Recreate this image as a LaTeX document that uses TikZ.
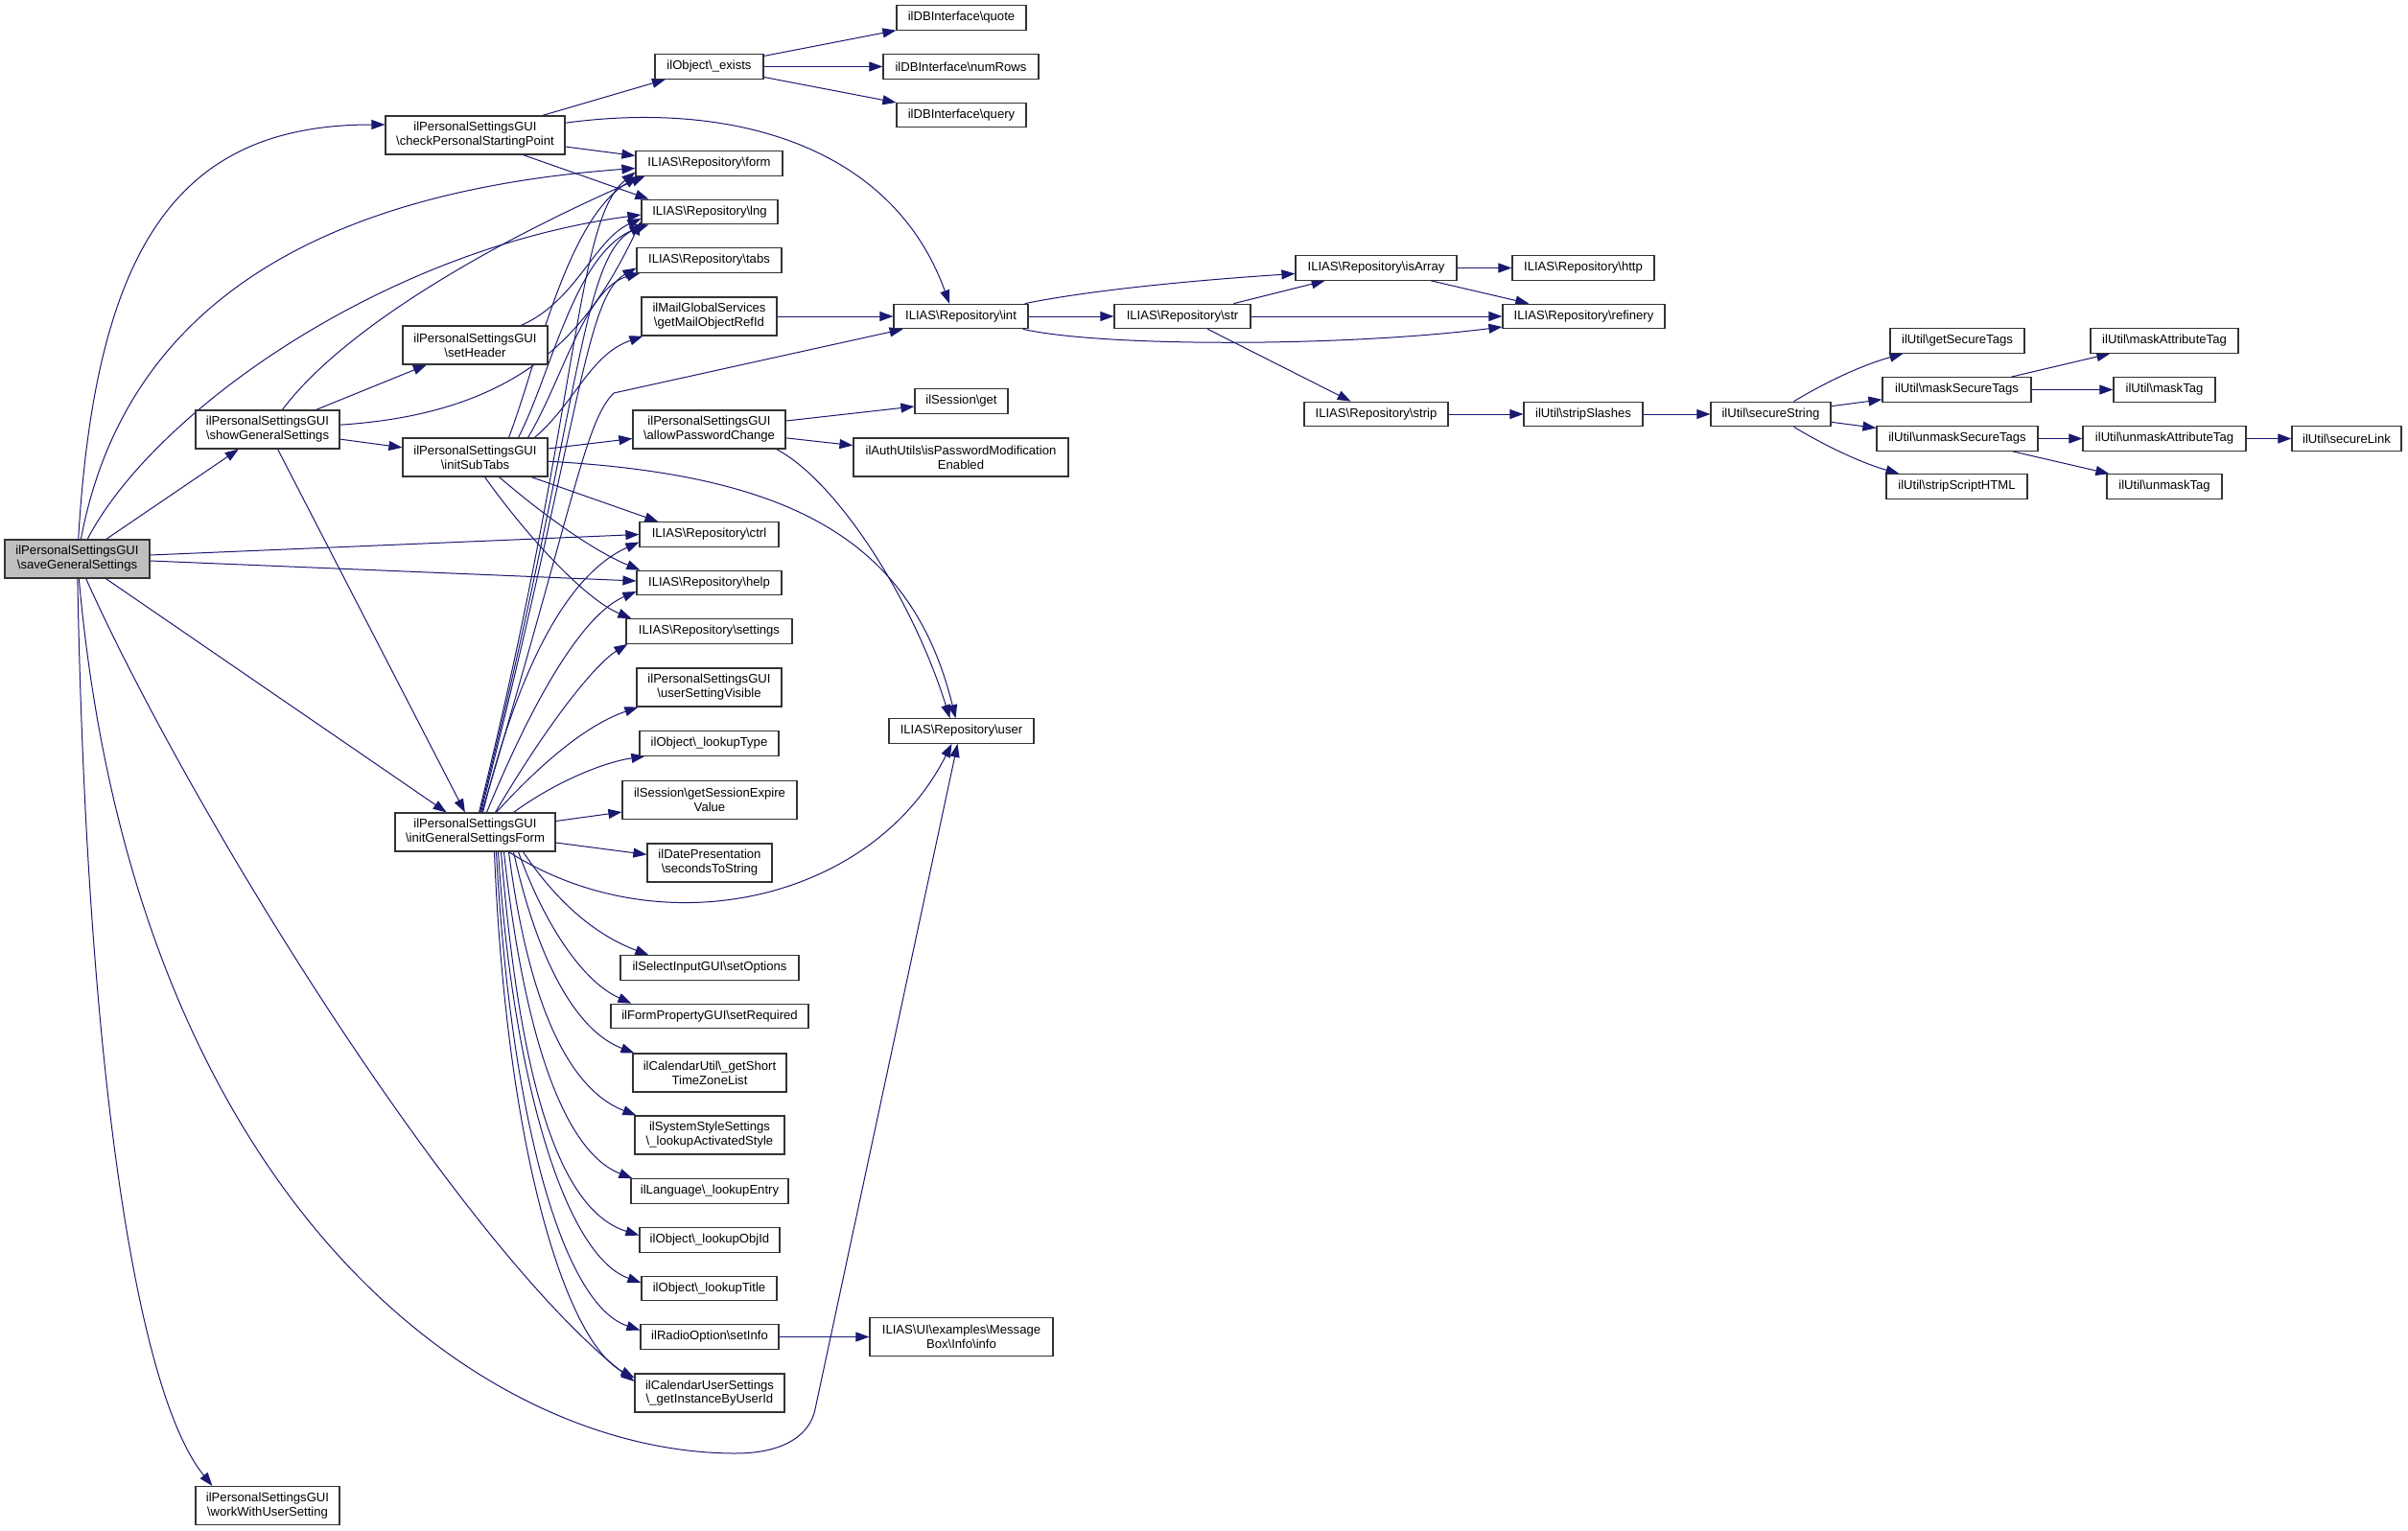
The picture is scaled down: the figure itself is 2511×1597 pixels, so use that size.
\documentclass[tikz,border=0pt]{standalone}
\usepackage{fontspec}
\setmainfont{Liberation Sans}
\usetikzlibrary{arrows.meta}
\newcommand{\bsl}{\textbackslash}
\definecolor{edgeblue}{HTML}{191970}
\pgfdeclarelayer{bg}
\pgfsetlayers{bg,main}
\begin{document}
\begin{tikzpicture}[x=1pt,y=-1pt,
  nb/.style={draw=black!80, fill=white, line width=1.2pt, inner sep=0pt, minimum height=25.5pt, align=center, font=\fontsize{13.1}{14.8}\selectfont},
  nbb/.style={nb, minimum height=40pt},
  root/.style={nbb, fill=black!25},
  e/.style={draw=edgeblue, line width=1pt, -{Triangle[length=14pt,width=10pt]}}]
\useasboundingbox (0,0) rectangle (2511,1597);
% nodes
\node[root, minimum width=151pt] (S) at (80.5,583) {ilPersonalSettingsGUI\\\bsl{}saveGeneralSettings};
\node[nbb, minimum width=187pt] (C) at (495.5,141) {ilPersonalSettingsGUI\\\bsl{}checkPersonalStartingPoint};
\node[nbb, minimum width=151pt] (H) at (495.5,360) {ilPersonalSettingsGUI\\\bsl{}setHeader};
\node[nbb, minimum width=150pt] (G) at (279,448) {ilPersonalSettingsGUI\\\bsl{}showGeneralSettings};
\node[nbb, minimum width=151pt] (T) at (495.5,477) {ilPersonalSettingsGUI\\\bsl{}initSubTabs};
\node[nbb, minimum width=167pt] (F) at (495.5,868) {ilPersonalSettingsGUI\\\bsl{}initGeneralSettingsForm};
\node[nbb, minimum width=150pt] (W) at (279,1570.5) {ilPersonalSettingsGUI\\\bsl{}workWithUserSetting};
\node[nb, minimum width=113pt] (exists) at (739.5,69.5) {ilObject\bsl\_exists};
\node[nb, minimum width=135pt] (quote) at (1002.5,18.5) {ilDBInterface\bsl{}quote};
\node[nb, minimum width=162pt] (numRows) at (1002,69.5) {ilDBInterface\bsl{}numRows};
\node[nb, minimum width=135pt] (query) at (1002.5,120) {ilDBInterface\bsl{}query};
\node[nb, minimum width=153pt] (form) at (739.5,170.5) {ILIAS\bsl{}Repository\bsl{}form};
\node[nb, minimum width=142pt] (lng) at (740,221) {ILIAS\bsl{}Repository\bsl{}lng};
\node[nb, minimum width=151pt] (tabs) at (739.5,271.5) {ILIAS\bsl{}Repository\bsl{}tabs};
\node[nbb, minimum width=141pt] (getMail) at (739.5,330) {ilMailGlobalServices\\\bsl{}getMailObjectRefId};
\node[nb, minimum width=140pt] (int) at (1002,330) {ILIAS\bsl{}Repository\bsl{}int};
\node[nbb, minimum width=159pt] (A) at (739.5,448) {ilPersonalSettingsGUI\\\bsl{}allowPasswordChange};
\node[nb, minimum width=97pt] (sget) at (1002.5,418.5) {ilSession\bsl{}get};
\node[nbb, minimum width=224pt] (pwmod) at (1002,477) {ilAuthUtils\bsl{}isPasswordModification\\Enabled};
\node[nb, minimum width=142pt] (str) at (1233,330) {ILIAS\bsl{}Repository\bsl{}str};
\node[nb, minimum width=168pt] (isArray) at (1435,279.5) {ILIAS\bsl{}Repository\bsl{}isArray};
\node[nb, minimum width=148pt] (http) at (1651,279.5) {ILIAS\bsl{}Repository\bsl{}http};
\node[nb, minimum width=169pt] (refinery) at (1651.5,330) {ILIAS\bsl{}Repository\bsl{}refinery};
\node[nb, minimum width=150pt] (strip) at (1435,432) {ILIAS\bsl{}Repository\bsl{}strip};
\node[nb, minimum width=124pt] (stripSlashes) at (1651,432) {ilUtil\bsl{}stripSlashes};
\node[nb, minimum width=125pt] (secureString) at (1846.5,432) {ilUtil\bsl{}secureString};
\node[nb, minimum width=140pt] (getSecureTags) at (2041,355.5) {ilUtil\bsl{}getSecureTags};
\node[nb, minimum width=155pt] (maskSecureTags) at (2040.5,406.5) {ilUtil\bsl{}maskSecureTags};
\node[nb, minimum width=168pt] (unmaskSecureTags) at (2041,457.5) {ilUtil\bsl{}unmaskSecureTags};
\node[nb, minimum width=147pt] (stripScriptHTML) at (2040.5,507.5) {ilUtil\bsl{}stripScriptHTML};
\node[nb, minimum width=154pt] (maskAttributeTag) at (2257,355.5) {ilUtil\bsl{}maskAttributeTag};
\node[nb, minimum width=106pt] (maskTag) at (2257,406.5) {ilUtil\bsl{}maskTag};
\node[nb, minimum width=170pt] (unmaskAttributeTag) at (2257,457.5) {ilUtil\bsl{}unmaskAttributeTag};
\node[nb, minimum width=114pt] (secureLink) at (2447,457.5) {ilUtil\bsl{}secureLink};
\node[nb, minimum width=120pt] (unmaskTag) at (2257,507.5) {ilUtil\bsl{}unmaskTag};
\node[nb, minimum width=145pt] (ctrl) at (739.5,557.5) {ILIAS\bsl{}Repository\bsl{}ctrl};
\node[nb, minimum width=151pt] (help) at (739.5,608) {ILIAS\bsl{}Repository\bsl{}help};
\node[nb, minimum width=173pt] (settings) at (739.5,658.5) {ILIAS\bsl{}Repository\bsl{}settings};
\node[nbb, minimum width=151pt] (usv) at (739.5,717) {ilPersonalSettingsGUI\\\bsl{}userSettingVisible};
\node[nb, minimum width=145pt] (lookupType) at (739.5,775.5) {ilObject\bsl\_lookupType};
\node[nbb, minimum width=182pt] (gsev) at (740,834.5) {ilSession\bsl{}getSessionExpire\\Value};
\node[nbb, minimum width=130pt] (s2s) at (740,900) {ilDatePresentation\\\bsl{}secondsToString};
\node[nb, minimum width=151pt] (user) at (1002.5,762.5) {ILIAS\bsl{}Repository\bsl{}user};
\node[nb, minimum width=186pt] (setOptions) at (740,1009.5) {ilSelectInputGUI\bsl{}setOptions};
\node[nb, minimum width=206pt] (setRequired) at (740,1060) {ilFormPropertyGUI\bsl{}setRequired};
\node[nbb, minimum width=160pt] (gstzl) at (740,1119) {ilCalendarUtil\bsl\_getShort\\TimeZoneList};
\node[nbb, minimum width=156pt] (las) at (740,1184) {ilSystemStyleSettings\\\bsl\_lookupActivatedStyle};
\node[nb, minimum width=164pt] (lookupEntry) at (740,1242.5) {ilLanguage\bsl\_lookupEntry};
\node[nb, minimum width=146pt] (lookupObjId) at (740,1293.5) {ilObject\bsl\_lookupObjId};
\node[nb, minimum width=141pt] (lookupTitle) at (739.5,1344) {ilObject\bsl\_lookupTitle};
\node[nb, minimum width=144pt] (setInfo) at (740,1394.5) {ilRadioOption\bsl{}setInfo};
\node[nbb, minimum width=156pt] (gibu) at (740,1453) {ilCalendarUserSettings\\\bsl\_getInstanceByUserId};
\node[nbb, minimum width=191pt] (msgInfo) at (1002.5,1394.5) {ILIAS\bsl{}UI\bsl{}examples\bsl{}Message\\Box\bsl{}Info\bsl{}info};
% edges
\begin{pgfonlayer}{bg}
\fill[white] (0,0) rectangle (2511,1597);
% root
\draw[e] (S) .. controls (100,250) and (190,130) .. ([yshift=11pt]C.west);
\draw[e] (S) -- (G);
\draw[e] (S) .. controls (130,320) and (330,200) .. ([yshift=-5pt]form.west);
\draw[e] (S) .. controls (160,430) and (400,260) .. ([yshift=-3pt]lng.west);
\draw[e] ([yshift=4pt]S.east) -- (ctrl.west);
\draw[e] ([yshift=-2pt]S.east) -- ([yshift=2pt]help.west);
\draw[e] (S) -- (F);
\draw[e] (S) .. controls (200,850) and (480,1300) .. ([yshift=12pt]gibu.west);
\draw[e] (S) .. controls (140,1250) and (500,1516) .. (767,1516) .. controls (820,1516) and (845,1495) .. (850,1470) -- ([xshift=-4pt]user.south);
\draw[e] (S) .. controls (90,1100) and (140,1450) .. ([xshift=18pt]W.north west);
% checkPersonalStartingPoint
\draw[e] (C) -- (exists);
\draw[e] (C) .. controls (760,105) and (930,150) .. ([xshift=-12pt]int.north);
\draw[e] ([yshift=-12pt]C.east) -- ([yshift=8pt]form.west);
\draw[e] ([xshift=50pt]C.south) -- ([xshift=8pt]lng.north west);
% exists
\draw[e] (exists) -- (quote);
\draw[e] (exists) -- (numRows);
\draw[e] (exists) -- (query);
% showGeneralSettings
\draw[e] (G) -- (H);
\draw[e] (G) -- (T);
\draw[e] (G) -- (F);
\draw[e] (G) .. controls (360,340) and (520,250) .. ([xshift=10pt]form.south west);
\draw[e] (G) .. controls (560,430) and (620,330) .. ([yshift=-10pt]lng.west);
% setHeader
\draw[e] (H) .. controls (600,315) and (620,250) .. ([yshift=-7pt]lng.west);
% initSubTabs
\draw[e] (T) -- (A);
\draw[e] (T) .. controls (820,495) and (950,560) .. ([xshift=-6pt]user.north);
\draw[e] (T) -- ([xshift=20pt]ctrl.north west);
\draw[e] ([xshift=25pt]T.south) .. controls (570,540) and (620,575) .. ([xshift=4pt]help.north west);
\draw[e] ([xshift=10pt]T.south) .. controls (550,560) and (610,625) .. ([xshift=6pt]settings.north west);
\draw[e] ([xshift=35pt]T.north) .. controls (560,380) and (590,230) .. ([xshift=3pt]form.south west);
\draw[e] ([xshift=45pt]T.north) .. controls (575,390) and (600,260) .. ([xshift=8pt]lng.south west);
\draw[e] ([xshift=55pt]T.north) .. controls (585,400) and (610,300) .. ([xshift=4pt]tabs.south west);
\draw[e] ([xshift=62pt]T.north) .. controls (600,420) and (615,370) .. ([xshift=2pt]getMail.south west);
% initGeneralSettingsForm - upwards
\draw[e] ([xshift=4pt]F.north) .. controls (605,420) and (600,230) .. ([yshift=-9pt]form.west);
\draw[e] ([xshift=5pt]F.north) .. controls (605,430) and (605,270) .. ([xshift=2pt]lng.south west);
\draw[e] ([xshift=6pt]F.north) .. controls (605,440) and (610,310) .. ([yshift=-8pt]tabs.west);
\draw[e] ([xshift=7pt]F.north) .. controls (600,520) and (610,440) .. (640,410) -- (int);
\draw[e] ([xshift=8pt]F.north) .. controls (540,700) and (590,600) .. ([yshift=-8pt]ctrl.west);
\draw[e] ([xshift=12pt]F.north) .. controls (560,720) and (610,640) .. ([yshift=-9pt]help.west);
\draw[e] ([xshift=21pt]F.north) .. controls (580,740) and (625,690) .. ([xshift=2pt]settings.south west);
\draw[e] ([xshift=22pt]F.north) .. controls (570,790) and (615,755) .. ([xshift=2pt]usv.south west);
\draw[e] ([xshift=40pt]F.north) .. controls (580,815) and (630,795) .. ([xshift=6pt]lookupType.south west);
\draw[e] (F) -- (gsev);
\draw[e] (F) -- (s2s);
% initGeneralSettingsForm - downwards
\draw[e] ([xshift=35pt]F.south) .. controls (690,990) and (910,940) .. ([xshift=-10pt]user.south);
\draw[e] ([xshift=50pt]F.south) .. controls (580,940) and (620,975) .. ([xshift=30pt]setOptions.north west);
\draw[e] ([xshift=45pt]F.south) .. controls (570,970) and (610,1025) .. ([xshift=22pt]setRequired.north west);
\draw[e] ([xshift=40pt]F.south) .. controls (560,1000) and (600,1075) .. ([xshift=2pt]gstzl.north west);
\draw[e] ([xshift=35pt]F.south) .. controls (550,1040) and (590,1135) .. ([xshift=2pt]las.north west);
\draw[e] ([xshift=30pt]F.south) .. controls (545,1070) and (585,1200) .. ([xshift=2pt]lookupEntry.north west);
\draw[e] ([xshift=27pt]F.south) .. controls (540,1100) and (575,1260) .. ([yshift=5pt]lookupObjId.west);
\draw[e] ([xshift=24pt]F.south) .. controls (535,1130) and (590,1310) .. ([yshift=6pt]lookupTitle.west);
\draw[e] ([xshift=22pt]F.south) .. controls (532,1160) and (585,1360) .. ([yshift=7pt]setInfo.west);
\draw[e] ([xshift=20pt]F.south) .. controls (528,1200) and (590,1400) .. ([yshift=16pt]gibu.west);
\draw[e] (setInfo) -- (msgInfo);
% allowPasswordChange
\draw[e] (A) -- (sget);
\draw[e] (A) -- (pwmod);
\draw[e] ([xshift=-10pt]A.south east) .. controls (870,500) and (950,620) .. ([xshift=-12pt]user.north);
% getMailObjectRefId
\draw[e] (getMail) -- (int);
% int
\draw[e] ([xshift=-4pt]int.north east) .. controls (1150,300) and (1280,290) .. ([yshift=-6pt]isArray.west);
\draw[e] (int) -- (str);
\draw[e] ([xshift=-6pt]int.south east) .. controls (1150,362) and (1400,362) .. ([yshift=-11pt]refinery.west);
% str
\draw[e] (str) -- (isArray);
\draw[e] (str) -- (refinery);
\draw[e] (str) -- (strip);
\draw[e] (isArray) -- (http);
\draw[e] (isArray) -- (refinery);
\draw[e] (strip) -- (stripSlashes);
\draw[e] (stripSlashes) -- (secureString);
% secureString
\draw[e] ([xshift=-39pt]secureString.north east) .. controls (1910,395) and (1945,380) .. ([xshift=14pt]getSecureTags.south west);
\draw[e] (secureString) -- (maskSecureTags);
\draw[e] (secureString) -- (unmaskSecureTags);
\draw[e] ([xshift=-39pt]secureString.south east) .. controls (1910,469) and (1945,484) .. ([xshift=14pt]stripScriptHTML.north west);
\draw[e] (maskSecureTags) -- (maskAttributeTag);
\draw[e] (maskSecureTags) -- (maskTag);
\draw[e] (unmaskSecureTags) -- (unmaskAttributeTag);
\draw[e] (unmaskSecureTags) -- (unmaskTag);
\draw[e] (unmaskAttributeTag) -- (secureLink);
\end{pgfonlayer}
\end{tikzpicture}
\end{document}
